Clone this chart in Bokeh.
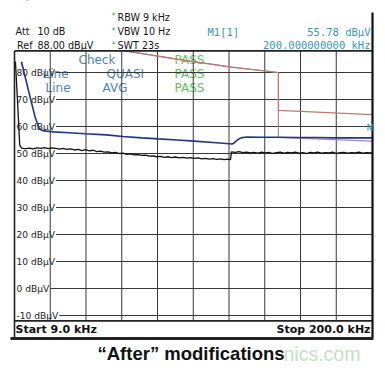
from bokeh.plotting import figure
from bokeh.models import Range1d
from bokeh.core.properties import value
from bokeh.embed import file_html
from bokeh.resources import INLINE

# ---------------- data ----------------
x_start, x_stop = 9.0, 200.0          # kHz
y_ref, y_bottom = 88.0, -12.0         # dBuV

# QP trace (blue)
qp_freq = [12.7, 15.0, 17.5, 20.0, 22.0, 23.5, 26, 30, 38, 47, 58, 67, 77, 86, 96,
           105, 115, 124, 125.3, 126.5, 128, 130, 133, 140, 150, 160, 170, 180, 190, 200]
qp_db = [84.0, 77.5, 70.4, 63.5, 59.5, 58.6, 58.3, 58.0, 57.7, 57.3, 56.9, 56.3, 55.8, 55.4, 55.0,
         54.6, 54.1, 53.6, 53.5, 54.0, 55.0, 55.8, 56.1, 56.0, 56.0, 55.9, 55.9, 55.8, 55.8, 55.78]

# AVG trace (black)
avg_freq = [9.5, 10.6, 11.3, 11.8, 12.8, 13.8, 15, 17, 19, 21, 23, 25, 27, 29, 31, 33, 35, 37, 39,
            41, 43, 45, 47, 49, 51, 53, 55, 57, 59, 61, 63, 65, 67, 69, 71, 73, 75, 77, 79, 81,
            83, 85, 87, 89, 91, 93, 95, 97, 99, 101, 103, 105, 107, 109, 111, 113, 115, 117,
            119, 121, 123, 124.4, 124.9, 127, 129, 131, 133, 135, 137, 139, 141, 143, 145, 147,
            149, 151, 153, 155, 157, 159, 161, 163, 165, 167, 169, 171, 173, 175, 177, 179, 181,
            183, 185, 187, 189, 191, 193, 195, 197, 199, 200]
avg_db = [84.1, 69.6, 60.0, 53.1, 52.0, 51.9, 51.8, 52.0, 51.7, 52.1, 51.9, 52.2, 51.8, 52.1, 51.9,
          51.6, 51.9, 51.5, 51.7, 51.3, 51.5, 51.1, 51.4, 51.0, 51.2, 50.7, 50.9, 50.5, 50.6, 50.2,
          50.4, 50.0, 50.1, 49.7, 49.9, 49.5, 49.6, 49.3, 49.4, 49.0, 49.1, 48.8, 48.9, 48.6, 48.8,
          48.5, 48.7, 48.4, 48.6, 48.3, 48.5, 48.2, 48.4, 48.0, 48.2, 47.9, 48.1, 47.8, 48.0, 47.7,
          47.9, 47.7, 50.6, 50.4, 50.7, 50.3, 50.5, 50.2, 50.4, 50.1, 50.5, 50.2, 50.4, 50.0, 50.3,
          50.5, 50.1, 50.4, 50.2, 50.5, 50.1, 50.3, 50.0, 50.4, 50.2, 50.5, 50.1, 50.3, 50.2, 50.5,
          50.0, 50.3, 50.4, 50.1, 50.3, 50.2, 50.5, 50.1, 50.3, 50.2, 50.3]

# limit lines
qp_lim_freq = [9, 40, 68, 100, 125, 150, 150, 200]
qp_lim_db = [110, 95, 88, 84.5, 82, 80, 66, 64.4]
avg_lim_freq = [9, 40, 68, 100, 125, 150, 150, 200]
avg_lim_db = [110, 95, 88, 84.5, 82, 80, 56, 54.6]

y_ticks = [80, 70, 60, 50, 40, 30, 20, 10, 0, -10]
y_tick_labels = ["80 dBµV", "70 dBµV", "60 dBµV", "50 dBµV", "40 dBµV",
                 "30 dBµV", "20 dBµV", "10 dBµV", "0 dBµV", "-10 dBµV"]
n_xdiv = 10

# ---------------- layout geometry (page pixels) ----------------
W, H = 385, 368
OFF = 0
PX0, PX1 = 14.0, 371.5
PY0, PY1 = 50.4, 320.4
kx = (x_stop - x_start) / (PX1 - PX0)
ky = (y_ref - y_bottom) / (PY1 - PY0)


def FX(px):
    return x_start + (px - PX0) * kx


def FY(py):
    return y_ref - (py - PY0) * ky


p = figure(width=W, height=H, output_backend="svg", toolbar_location=None,
           x_range=Range1d(FX(OFF), FX(OFF + W)), y_range=Range1d(FY(OFF + H), FY(OFF)),
           min_border=0, outline_line_color=None)
p.axis.visible = False
p.xgrid.visible = False
p.ygrid.visible = False
p.background_fill_color = "white"
p.border_fill_color = "white"

SANS = value("DejaVu Sans")
MONO = value("DejaVu Sans Mono")
GRID = "#383838"

# in-chart texts (under grid)
blue_txt = "#5383b8"
green_txt = "#5cc65c"
p.text(x=[FX(78), FX(43), FX(106), FX(45), FX(102)],
       y=[FY(59), FY(73), FY(73), FY(87), FY(87)],
       text=["Check", "Line", "QUASI", "Line", "AVG"],
       text_font=SANS, text_font_size="12px", text_color=blue_txt,
       text_align="left", text_baseline="middle")
p.text(x=[FX(174)] * 3, y=[FY(59), FY(73), FY(87)], text=["PASS"] * 3,
       text_font=SANS, text_font_size="12px", text_color=green_txt,
       text_align="left", text_baseline="middle")

# y tick labels and horizontal grid
fs_tick = 9.1
cw = {' ': 0.318, 'd': 0.635, 'B': 0.686, 'µ': 0.636, 'V': 0.684, '-': 0.361}
lab_x = 16.0
gx0 = []
for lab in y_tick_labels:
    w = sum(cw.get(c, 0.636) for c in lab) * fs_tick
    gx0.append(FX(lab_x + w + 1))
p.text(x=[FX(lab_x)] * len(y_ticks), y=y_ticks, text=y_tick_labels,
       text_font=SANS, text_font_size=f"{fs_tick}px", text_color="#222222",
       text_align="left", text_baseline="middle")
p.segment(x0=gx0, y0=y_ticks, x1=[x_stop] * len(y_ticks), y1=y_ticks,
          line_color=GRID, line_width=1)

# vertical grid
xv = [x_start + k * (x_stop - x_start) / n_xdiv for k in range(1, n_xdiv)]
p.segment(x0=xv, y0=[y_bottom] * len(xv), x1=xv, y1=[y_ref] * len(xv),
          line_color=GRID, line_width=1)

# limit lines
p.line(avg_lim_freq, avg_lim_db, line_color="#a883b8", line_width=1.2)
p.line(qp_lim_freq, qp_lim_db, line_color="#c07a68", line_width=1.2)

# traces
p.line(qp_freq, qp_db, line_color="#22348a", line_width=1.6)
p.line(avg_freq, avg_db, line_color="#111111", line_width=1.3)

# mask above chart area (header)
p.quad(left=[FX(OFF)], right=[FX(OFF + W)], bottom=[y_ref], top=[FY(OFF)],
       fill_color="white", line_color=None)

# frame
p.segment(x0=[x_start, x_start, FX(PX0)], y0=[y_ref, y_bottom, y_ref],
          x1=[x_stop, x_stop, FX(PX0)], y1=[y_ref, y_bottom, FY(337)],
          line_color="#222222", line_width=1.6)
p.segment(x0=[FX(372)], y0=[FY(12)], x1=[FX(372)], y1=[FY(337)],
          line_color="#111111", line_width=2.2)
p.segment(x0=[FX(10)], y0=[FY(338)], x1=[FX(373)], y1=[FY(338)],
          line_color="#222222", line_width=3)

# marker label
p.text(x=[FX(366)], y=[FY(127)], text=["M"], text_font=SANS, text_font_size="9px",
       text_color="#3a98b5", text_align="left", text_baseline="middle")

# header
hdr = "#151515"
p.text(x=[FX(15), FX(37), FX(16.5), FX(37)], y=[FY(31), FY(31), FY(44.5), FY(44.5)],
       text=["Att", "10 dB", "Ref", "88.00 dBµV"],
       text_font=SANS, text_font_size="9.6px", text_color=hdr,
       text_align="left", text_baseline="middle")
p.text(x=[FX(111)] * 3, y=[FY(16), FY(31), FY(44.5)], text=["*"] * 3,
       text_font=SANS, text_font_size="8px", text_color="#4cb050",
       text_align="left", text_baseline="middle")
p.text(x=[FX(117)] * 3, y=[FY(16.5), FY(31), FY(44.5)],
       text=["RBW 9 kHz", "VBW 10 Hz", "SWT 23s"],
       text_font=SANS, text_font_size="9.6px", text_color=hdr,
       text_align="left", text_baseline="middle")
teal = "#3a98b5"
p.text(x=[FX(207)], y=[FY(31)], text=["M1[1]"], text_font=MONO, text_font_size="10.5px",
       text_color=teal, text_align="left", text_baseline="middle")
p.text(x=[FX(370)] * 2, y=[FY(31), FY(44.5)], text=["55.78 dBµV", "200.000000000 kHz"],
       text_font=MONO, text_font_size="10.5px", text_color=teal,
       text_align="right", text_baseline="middle")

# start / stop
p.text(x=[FX(15)], y=[FY(329)], text=["Start 9.0 kHz"], text_font=SANS,
       text_font_size="11px", text_font_style="bold", text_color="#111111",
       text_align="left", text_baseline="middle")
p.text(x=[FX(370)], y=[FY(329)], text=["Stop 200.0 kHz"], text_font=SANS,
       text_font_size="11px", text_font_style="bold", text_color="#111111",
       text_align="right", text_baseline="middle")

# caption + watermark
p.text(x=[FX(283)], y=[FY(353)], text=["nics.com"], text_font=value("Liberation Sans"),
       text_font_size="19.5px", text_color="#c4e2c4", text_align="left", text_baseline="middle")
p.text(x=[FX(97)], y=[FY(353)], text=["“After” modifications"], text_font=value("Liberation Sans"),
       text_font_size="18.5px", text_font_style="bold", text_color="#111111",
       text_align="left", text_baseline="middle")

open("out.html", "w").write(file_html(p, INLINE))
